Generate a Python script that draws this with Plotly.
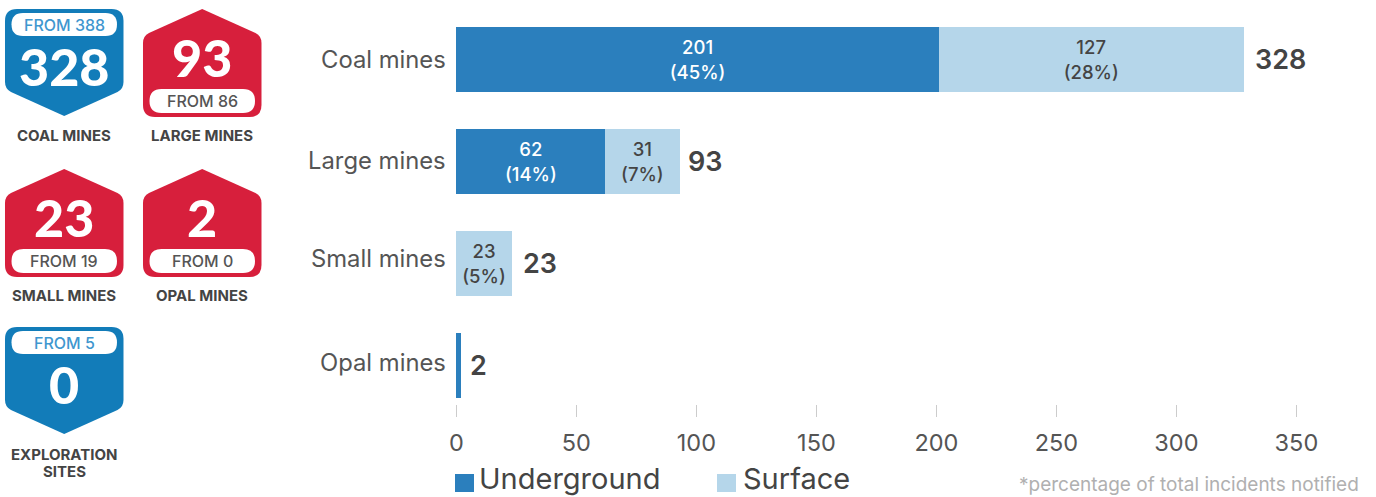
import plotly.graph_objects as go

W, H = 1376, 497
FONT = "Inter"
DARK = "#444444"
BLUE = "#2b7fbd"
LIGHT = "#b5d6ea"
BADGE_BLUE = "#127cb9"
BADGE_RED = "#d71f3c"

categories = ["Coal mines", "Large mines", "Small mines", "Opal mines"]
underground = [201, 62, 0, 2]
surface = [127, 31, 23, 0]
totals = [328, 93, 23, 2]
underground_labels = ["201<br>(45%)", "62<br>(14%)", "", ""]
surface_labels = ["127<br>(28%)", "31<br>(7%)", "23<br>(5%)", ""]
x_ticks = [0, 50, 100, 150, 200, 250, 300, 350]

badge_values = ["328", "93", "23", "2", "0"]
badge_from = ["FROM 388", "FROM 86", "FROM 19", "FROM 0", "FROM 5"]
badge_names = [["COAL MINES"], ["LARGE MINES"], ["SMALL MINES"], ["OPAL MINES"], ["EXPLORATION", "SITES"]]
# left, top, direction of the badge (down = improved, up = worse), name y
badge_layout = [(5, 9, "down", 135), (143, 9, "up", 135), (5, 169, "up", 295), (143, 169, "up", 295), (5, 327, "down", 454)]


def px(x):
    return x / W


def py(y):
    return 1 - y / H


def P(x, y):
    return f"{px(x):.5f},{py(y):.5f}"


def down_badge(x0, y0):
    x1, cx, y1, r = x0 + 118.5, x0 + 59.2, y0 + 107, 12
    sy = y0 + 79
    return ("M" + P(x0 + r, y0) + " L" + P(x1 - r, y0) + " Q" + P(x1, y0) + " " + P(x1, y0 + r)
            + " L" + P(x1, sy - 6) + " Q" + P(x1, sy + 1) + " " + P(x1 - 6, sy + 4)
            + " L" + P(cx, y1) + " L" + P(x0 + 6, sy + 4) + " Q" + P(x0, sy + 1) + " " + P(x0, sy - 6)
            + " L" + P(x0, y0 + r) + " Q" + P(x0, y0) + " " + P(x0 + r, y0) + " Z")


def up_badge(x0, y0):
    x1, cx, y1, r = x0 + 118.5, x0 + 59.2, y0 + 108, 12
    sy = y0 + 28
    return ("M" + P(cx, y0) + " L" + P(x1 - 6, sy - 4) + " Q" + P(x1, sy - 1) + " " + P(x1, sy + 6)
            + " L" + P(x1, y1 - r) + " Q" + P(x1, y1) + " " + P(x1 - r, y1)
            + " L" + P(x0 + r, y1) + " Q" + P(x0, y1) + " " + P(x0, y1 - r)
            + " L" + P(x0, sy + 6) + " Q" + P(x0, sy - 1) + " " + P(x0 + 6, sy - 4) + " Z")


def pill(x0, y0, x1, y1):
    r = (y1 - y0) / 2
    return ("M" + P(x0 + r, y0) + " L" + P(x1 - r, y0) + " Q" + P(x1, y0) + " " + P(x1, y0 + r)
            + " Q" + P(x1, y1) + " " + P(x1 - r, y1) + " L" + P(x0 + r, y1)
            + " Q" + P(x0, y1) + " " + P(x0, y0 + r) + " Q" + P(x0, y0) + " " + P(x0 + r, y0) + " Z")


shapes = []
annotations = []


def text(x, y, s, size, color=DARK, anchor="center", weight=400, family=FONT):
    annotations.append(dict(xref="paper", yref="paper", x=px(x), y=py(y), text=s, showarrow=False,
                            xanchor=anchor, yanchor="middle", align=anchor,
                            font=dict(family=family, size=size, color=color, weight=weight)))


for (x0, y0, kind, name_y), val, frm, name in zip(badge_layout, badge_values, badge_from, badge_names):
    cx = x0 + 59.2
    if kind == "down":
        path, fill = down_badge(x0, y0), BADGE_BLUE
        p0, p1, val_y, frm_color = y0 + 4, y0 + 27, y0 + 57, "#3f97cf"
    else:
        path, fill = up_badge(x0, y0), BADGE_RED
        p0, p1, val_y, frm_color = y0 + 80, y0 + 104, y0 + 48, "#555555"
    shapes.append(dict(type="path", xref="paper", yref="paper", path=path, fillcolor=fill, line_width=0, layer="below"))
    shapes.append(dict(type="path", xref="paper", yref="paper", path=pill(x0 + 6.5, p0, x0 + 112, p1),
                       fillcolor="white", line_width=0, layer="below"))
    text(cx, val_y, val, 52, "white", weight=900, family="Lato")
    text(cx, (p0 + p1) / 2, frm, 16, frm_color, weight=500)
    for i, line in enumerate(name):
        text(cx, name_y + 17 * i, line, 15, DARK, weight=700)

# Category labels and bar totals
label_y = [59, 160, 258, 362]
for cat, y in zip(categories, label_y):
    text(448, y, cat, 23.8, "#555555", anchor="right")

total_shift = [9, 6, 9, 7]
for cat, tot, shift in zip(categories, totals, total_shift):
    annotations.append(dict(xref="x", yref="y", x=tot, y=cat, text=str(tot), showarrow=False, xanchor="left",
                            xshift=shift, font=dict(family=FONT, size=27, color=DARK, weight=600)))

# Legend and footnote
legend_items = [("Underground", BLUE, 455, 477), ("Surface", LIGHT, 717, 741)]
for name, color, sx, tx in legend_items:
    shapes.append(dict(type="rect", xref="paper", yref="paper", x0=px(sx), x1=px(sx + 19), y0=py(492), y1=py(474),
                       fillcolor=color, line_width=0))
    text(tx, 478.3, name, 29, "#444444", anchor="left")
text(1361, 484, "*percentage of total incidents notified", 19, "#b0b0b0", anchor="right")

fig = go.Figure()
fig.add_bar(name="Underground", y=categories, x=underground, orientation="h", marker_color=BLUE, marker_line_width=0,
            text=underground_labels, textposition="inside", insidetextanchor="middle", textangle=0,
            insidetextfont=dict(family=FONT, size=18.5, color="white", weight=500), constraintext="none", width=0.637,
            hoverinfo="x+y")
fig.add_bar(name="Surface", y=categories, x=surface, orientation="h", marker_color=LIGHT, marker_line_width=0,
            text=surface_labels, textposition="inside", insidetextanchor="middle", textangle=0,
            insidetextfont=dict(family=FONT, size=18.5, color=DARK, weight=500), constraintext="none", width=0.637,
            hoverinfo="x+y")

# The range runs one unit past 0 and 350 (2.4 px per unit) so that the end ticks are drawn
fig.update_layout(
    width=W, height=H, barmode="stack", showlegend=False,
    margin=dict(l=0, r=0, t=0, b=0), paper_bgcolor="white", plot_bgcolor="white",
    xaxis=dict(domain=[(456.4 - 2.4) / W, (1296.4 + 2.4) / W], range=[-1, 351], tickvals=x_ticks, showgrid=False,
               zeroline=False, showline=False, ticks="inside", ticklen=12, tickwidth=1, tickcolor="#cccccc",
               ticklabelstandoff=10, tickfont=dict(family=FONT, size=23.5, color="#555555"), anchor="y",
               automargin=False),
    yaxis=dict(domain=[py(416.5), py(8.5)], autorange="reversed", showticklabels=False, showgrid=False, zeroline=False,
               showline=False, ticks="", automargin=False),
    shapes=shapes, annotations=annotations,
)

fig.write_html("out.html", post_script="document.body.style.margin='0';document.body.style.overflow='hidden';",
               config={"displayModeBar": False})
